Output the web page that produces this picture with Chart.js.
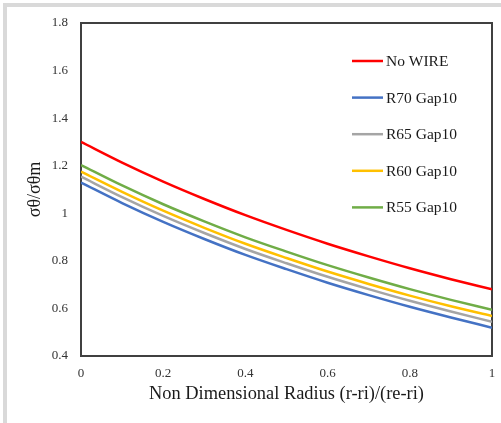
<!DOCTYPE html>
<html>
<head>
<meta charset="utf-8">
<script src="https://cdn.jsdelivr.net/npm/chart.js@4/dist/chart.umd.min.js"></script>
<style>
    html, body { margin: 0; padding: 0; background: #fff; }
    #wrap { position: relative; width: 501px; height: 423px; overflow: hidden; }
    #frame {
        position: absolute; left: 3px; top: 3px;
        width: 600px; height: 600px;
        border: 4px solid #d9d9d9;
    }
    #chart { position: absolute; left: 0; top: 0; }
</style>
</head>
<body>
<div id="wrap">
    <div id="frame"></div>
    <canvas id="chart" width="501" height="423"></canvas>
</div>
<script>
// Hoop stress ratio across the wall thickness

const radius = [0, 0.1, 0.2, 0.3, 0.4, 0.5, 0.6, 0.7, 0.8, 0.9, 1];

const noWire = [1.300, 1.213, 1.133, 1.060, 0.992, 0.930, 0.872, 0.819, 0.769, 0.723, 0.680];
const r70Gap10 = [1.129, 1.043, 0.964, 0.892, 0.825, 0.765, 0.708, 0.656, 0.607, 0.562, 0.519];
const r65Gap10 = [1.154, 1.068, 0.989, 0.917, 0.850, 0.790, 0.733, 0.681, 0.632, 0.587, 0.544];
const r60Gap10 = [1.175, 1.090, 1.011, 0.939, 0.872, 0.812, 0.755, 0.703, 0.654, 0.609, 0.568];
const r55Gap10 = [1.203, 1.117, 1.038, 0.966, 0.899, 0.839, 0.782, 0.730, 0.681, 0.636, 0.594];

const seriesNames = ['No WIRE', 'R70 Gap10', 'R65 Gap10', 'R60 Gap10', 'R55 Gap10'];
const seriesValues = [noWire, r70Gap10, r65Gap10, r60Gap10, r55Gap10];
const seriesColors = ['#ff0000', '#4472c4', '#a5a5a5', '#ffc000', '#70ad47'];

const serif = "'Liberation Serif', 'Times New Roman', serif";

function toPoints(values) {
    return values.map((v, i) => ({ x: radius[i], y: v }));
}

// tick text like "1" rather than "1.0"
function shortTick(value) {
    return String(+value.toFixed(1));
}

// frame around the plot area
const plotFrame = {
    id: 'plotFrame',
    beforeDatasetsDraw(chart) {
        const { ctx, chartArea: a } = chart;
        ctx.save();
        ctx.strokeStyle = '#404040';
        ctx.lineWidth = 2;
        ctx.strokeRect(a.left, a.top, a.right - a.left, a.bottom - a.top);
        ctx.restore();
    }
};

// legend stacked inside the plot, upper right
const insideLegend = {
    id: 'insideLegend',
    afterDraw(chart) {
        const ctx = chart.ctx;
        ctx.save();
        ctx.font = '15.5px ' + serif;
        ctx.textBaseline = 'middle';
        ctx.textAlign = 'left';
        chart.data.datasets.forEach((ds, i) => {
            const y = 61 + i * 36.6;
            ctx.strokeStyle = ds.borderColor;
            ctx.lineWidth = 2.5;
            ctx.beginPath();
            ctx.moveTo(352, y);
            ctx.lineTo(383, y);
            ctx.stroke();
            ctx.fillStyle = '#1a1a1a';
            ctx.fillText(ds.label, 386, y + 1);
        });
        ctx.restore();
    }
};

new Chart(document.getElementById('chart'), {
    type: 'line',
    data: {
        datasets: seriesNames.map((name, i) => ({
            label: name,
            data: toPoints(seriesValues[i]),
            borderColor: seriesColors[i],
            backgroundColor: seriesColors[i],
            borderWidth: 2.5,
            pointRadius: 0,
            cubicInterpolationMode: 'monotone',
            fill: false
        }))
    },
    options: {
        responsive: false,
        animation: false,
        layout: { padding: { left: 0, top: 23, right: 9, bottom: 0 } },
        plugins: {
            legend: { display: false },
            tooltip: { enabled: false }
        },
        scales: {
            x: {
                type: 'linear',
                min: 0,
                max: 1,
                grid: { display: false, drawTicks: false },
                border: { display: false },
                ticks: {
                    stepSize: 0.2,
                    padding: 10,
                    color: '#333333',
                    font: { family: serif, size: 13 },
                    callback: shortTick
                },
                title: {
                    display: true,
                    text: 'Non Dimensional Radius (r-ri)/(re-ri)',
                    color: '#1a1a1a',
                    font: { family: serif, size: 18.4 },
                    padding: { top: 0, bottom: 18 }
                },
                afterFit(scale) {
                    scale.height = 67;
                    scale.paddingLeft = 0;
                    scale.paddingRight = 0;
                }
            },
            y: {
                min: 0.4,
                max: 1.8,
                grid: { display: false, drawTicks: false },
                border: { display: false },
                ticks: {
                    stepSize: 0.2,
                    padding: 13,
                    color: '#333333',
                    font: { family: serif, size: 13 },
                    callback: shortTick
                },
                title: {
                    display: true,
                    text: 'σθ/σθm',
                    color: '#1a1a1a',
                    font: { family: serif, size: 18 },
                    padding: { top: 24, bottom: 0 }
                },
                afterFit(scale) {
                    scale.width = 81;
                    scale.paddingTop = 0;
                    scale.paddingBottom = 0;
                }
            }
        }
    },
    plugins: [plotFrame, insideLegend]
});
</script>
</body>
</html>
